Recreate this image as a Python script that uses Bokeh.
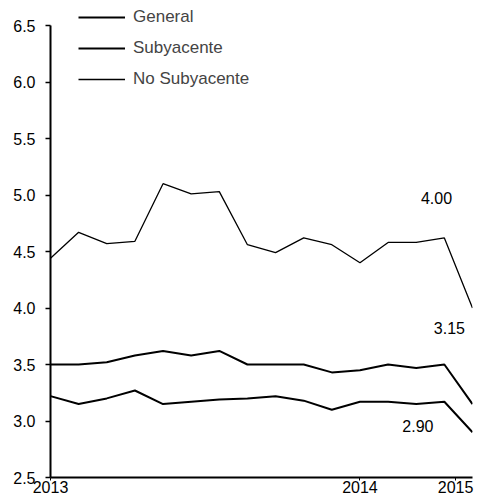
from bokeh.plotting import figure
from bokeh.models import Range1d, FixedTicker, Legend, LegendItem, Label
from bokeh.embed import file_html
from bokeh.resources import INLINE

# ---- data ----
periods = list(range(16))
general = [3.50, 3.50, 3.52, 3.58, 3.62, 3.58, 3.62, 3.50, 3.50, 3.50, 3.43, 3.45, 3.50, 3.47, 3.50, 3.15]
subyacente = [3.22, 3.15, 3.20, 3.27, 3.15, 3.17, 3.19, 3.20, 3.22, 3.18, 3.10, 3.17, 3.17, 3.15, 3.17, 2.90]
no_subyacente = [4.44, 4.67, 4.57, 4.59, 5.10, 5.01, 5.03, 4.56, 4.49, 4.62, 4.56, 4.40, 4.58, 4.58, 4.62, 4.00]

x_tick_positions = [0, 11, 14.4]
x_tick_labels = ["2013", "2014", "2015"]
y_ticks = [2.5, 3.0, 3.5, 4.0, 4.5, 5.0, 5.5, 6.0, 6.5]

end_labels = ["4.00", "3.15", "2.90"]
end_label_x = [13.72, 14.18, 13.06]
end_label_y = [4.97, 3.82, 2.96]

FONT = "Liberation Sans"

p = figure(frame_width=422, frame_height=472, output_backend="svg", toolbar_location=None,
           x_range=Range1d(0, 15), y_range=Range1d(2.5, 6.677),
           min_border_left=50, min_border_top=5, min_border_right=6, min_border_bottom=0)
p.outline_line_color = None
p.background_fill_color = "white"
p.border_fill_color = "white"
p.xgrid.visible = False
p.ygrid.visible = False

r_gen = p.line(periods, general, line_color="black", line_width=2)
r_sub = p.line(periods, subyacente, line_color="black", line_width=2)
r_no = p.line(periods, no_subyacente, line_color="black", line_width=1.3)

# axes
p.yaxis.ticker = FixedTicker(ticks=y_ticks)
p.yaxis.bounds = (2.5, 6.5)
p.yaxis.major_label_overrides = {t: f"{t:.1f}" for t in y_ticks}
p.yaxis.major_tick_out = 5
p.yaxis.major_tick_in = 0
p.yaxis.minor_tick_line_color = None
p.yaxis.major_label_standoff = 10
p.yaxis.axis_line_width = 2
p.yaxis.major_tick_line_width = 1.5

p.xaxis.ticker = FixedTicker(ticks=x_tick_positions)
p.xaxis.major_label_overrides = {t: lab for t, lab in zip(x_tick_positions, x_tick_labels)}
p.xaxis.major_tick_out = 3
p.xaxis.major_tick_in = 0
p.xaxis.minor_tick_line_color = None
p.xaxis.major_label_standoff = 0
p.xaxis.axis_line_width = 2

for ax in (p.xaxis, p.yaxis):
    ax.major_label_text_font = FONT
    ax.major_label_text_font_size = "16px"
    ax.major_label_text_color = "black"
    ax.axis_line_color = "black"
    ax.major_tick_line_color = "black"

# end labels
for txt, lx, ly in zip(end_labels, end_label_x, end_label_y):
    p.add_layout(Label(x=lx, y=ly, text=txt, text_font=FONT, text_font_size="16px",
                       text_color="black", text_align="center", text_baseline="middle"))

legend = Legend(items=[LegendItem(label="General", renderers=[r_gen]),
                       LegendItem(label="Subyacente", renderers=[r_sub]),
                       LegendItem(label="No Subyacente", renderers=[r_no])],
                location=(28, 388), orientation="vertical",
                glyph_width=47, glyph_height=20, label_height=20, spacing=11,
                label_standoff=8, padding=0, margin=0,
                label_text_font=FONT, label_text_font_size="17px",
                border_line_color=None, background_fill_alpha=0)
p.add_layout(legend, "center")

open("out.html", "w").write(file_html(p, INLINE))
